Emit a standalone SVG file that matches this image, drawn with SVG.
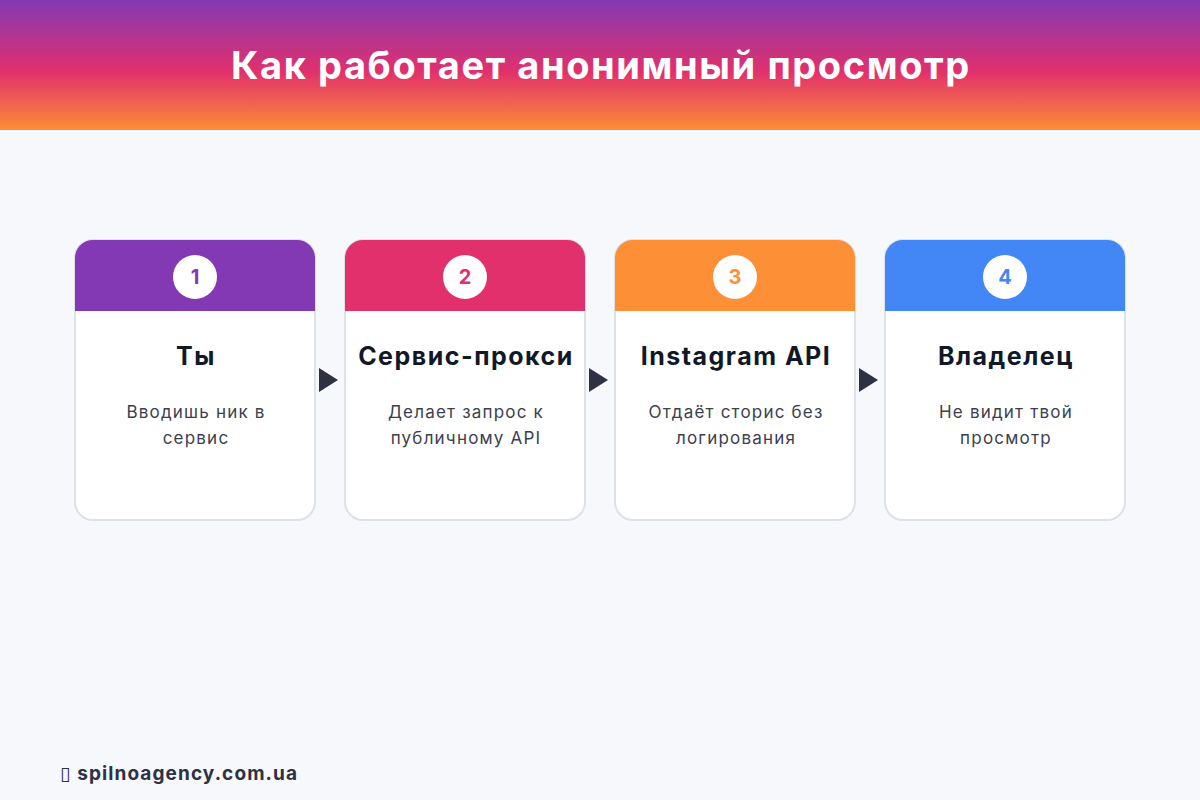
<svg xmlns="http://www.w3.org/2000/svg" width="1200" height="800" viewBox="0 0 1200 800">
  <defs>
    <linearGradient id="hdr" x1="0" y1="0" x2="0" y2="1">
      <stop offset="0" stop-color="#8439b4"/>
      <stop offset="0.55" stop-color="#e1306c"/>
      <stop offset="1" stop-color="#fd8d36"/>
    </linearGradient>
    <clipPath id="c1"><rect x="75" y="240" width="240" height="280" rx="18"/></clipPath>
    <clipPath id="c2"><rect x="345" y="240" width="240" height="280" rx="18"/></clipPath>
    <clipPath id="c3"><rect x="615" y="240" width="240" height="280" rx="18"/></clipPath>
    <clipPath id="c4"><rect x="885" y="240" width="240" height="280" rx="18"/></clipPath>
  </defs>
  <style>
    .card{fill:#ffffff;stroke:#dde1e8;stroke-width:2}
    .num{font-family:Inter,"Open Sans",sans-serif;font-weight:700;font-size:20px;text-anchor:middle}
    .ttl{font-family:Inter,"Open Sans",sans-serif;font-weight:700;font-size:25px;letter-spacing:1.5px;fill:#111827;text-anchor:middle}
    .dsc{font-family:Inter,"Open Sans",sans-serif;font-size:17px;letter-spacing:1.2px;fill:#3b4050;text-anchor:middle}
    .arr{fill:#2d3142}
  </style>
  <rect width="1200" height="800" fill="#f7f8fc"/>
  <rect width="1200" height="130" fill="url(#hdr)"/>
  <text x="601" y="79" text-anchor="middle" font-family="Inter,'Open Sans',sans-serif" font-weight="700" font-size="38" letter-spacing="1.6" fill="#ffffff">Как работает анонимный просмотр</text>

  <g id="node1">
    <rect class="card" x="75" y="240" width="240" height="280" rx="18"/>
    <rect x="75" y="240" width="240" height="71" fill="#8439b4" clip-path="url(#c1)"/>
    <circle cx="195" cy="277" r="22" fill="#fff"/>
    <text class="num" x="195" y="284" fill="#8439b4">1</text>
    <text class="ttl" x="196" y="365">Ты</text>
    <text class="dsc" x="196" y="418">Вводишь ник в</text>
    <text class="dsc" x="196" y="444">сервис</text>
  </g>
  <g id="node2">
    <rect class="card" x="345" y="240" width="240" height="280" rx="18"/>
    <rect x="345" y="240" width="240" height="71" fill="#e1306c" clip-path="url(#c2)"/>
    <circle cx="465" cy="277" r="22" fill="#fff"/>
    <text class="num" x="465" y="284" fill="#e1306c">2</text>
    <text class="ttl" x="466" y="365">Сервис-прокси</text>
    <text class="dsc" x="466" y="418">Делает запрос к</text>
    <text class="dsc" x="466" y="444">публичному API</text>
  </g>
  <g id="node3">
    <rect class="card" x="615" y="240" width="240" height="280" rx="18"/>
    <rect x="615" y="240" width="240" height="71" fill="#fd8f36" clip-path="url(#c3)"/>
    <circle cx="735" cy="277" r="22" fill="#fff"/>
    <text class="num" x="735" y="284" fill="#fd8f36">3</text>
    <text class="ttl" x="736" y="365">Instagram API</text>
    <text class="dsc" x="736" y="418">Отдаёт сторис без</text>
    <text class="dsc" x="736" y="444">логирования</text>
  </g>
  <g id="node4">
    <rect class="card" x="885" y="240" width="240" height="280" rx="18"/>
    <rect x="885" y="240" width="240" height="71" fill="#4287f5" clip-path="url(#c4)"/>
    <circle cx="1005" cy="277" r="22" fill="#fff"/>
    <text class="num" x="1005" y="284" fill="#4287f5">4</text>
    <text class="ttl" x="1006" y="365">Владелец</text>
    <text class="dsc" x="1006" y="418">Не видит твой</text>
    <text class="dsc" x="1006" y="444">просмотр</text>
  </g>

  <g id="connectors">
    <polygon class="arr" points="319,368 338,380 319,392"/>
    <polygon class="arr" points="589,368 608,380 589,392"/>
    <polygon class="arr" points="859,368 878,380 859,392"/>
  </g>

  <text x="60" y="780" font-family="Inter,'DejaVu Sans',sans-serif" font-weight="700" font-size="19" letter-spacing="1.1" fill="#2d3142">▯ spilnoagency.com.ua</text>
</svg>
